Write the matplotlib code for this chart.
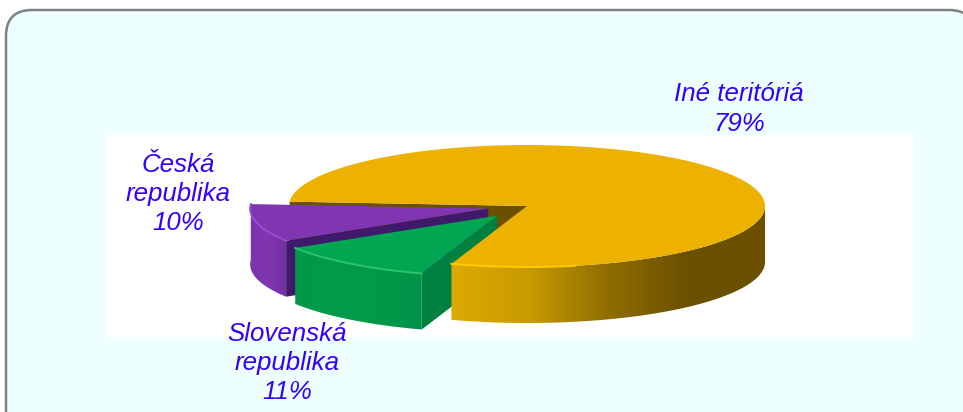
import numpy as np
import matplotlib
matplotlib.use('Agg')
import matplotlib.pyplot as plt
from matplotlib.colors import LinearSegmentedColormap
from matplotlib.patches import FancyBboxPatch, Polygon, Rectangle

labels = ['Iné teritóriá', 'Česká\nrepublika', 'Slovenská\nrepublika']
shares = [79, 10, 11]

top_colors = ['#EDB200', '#7F36B0', '#00A651']
side_colors = ['#6B5000', '#3F1A6B', '#008040']
rim_colors = ['#FFCC00', '#9A4ADB', '#2BC46B']
wall_stops = [
    ['#DDAA00', '#C79A00', '#8F6E00', '#6B5000', '#6B5000'],
    ['#7A34AC', '#7F36B0', '#7330A2'],
    ['#00994A', '#009C4B', '#009347'],
]
explode = [0, 40, 48]
label_pos = [(739, 109), (178, 194), (287, 363)]

cx, cy = 527, 206
rx, ry = 238, 61
depth = 56
start = 251.5

fig = plt.figure(figsize=(9.63, 4.12), dpi=100, facecolor='white')
ax = fig.add_axes([0, 0, 1, 1])
ax.axis('off')


def point(center, angle):
    a = np.radians(angle)
    return center[0] + rx * np.cos(a), center[1] - ry * np.sin(a)


def arc(center, a0, a1, n=160):
    a = np.radians(np.linspace(a0, a1, n))
    return np.column_stack([center[0] + rx * np.cos(a), center[1] - ry * np.sin(a)])


def lower(pts):
    return np.asarray(pts) + [0, depth]


# Panel behind the chart, it runs past the right and bottom of the image
ax.add_patch(FancyBboxPatch((6, 10), 969, 430, boxstyle='round,pad=0,rounding_size=26',
                            fc='#EEFFFF', ec='#808080', lw=1.8, zorder=1))
ax.add_patch(Rectangle((106, 135), 807, 202, fc='white', ec='none', zorder=2))

# Slice angles come from the shares, going counter-clockwise
spans = []
a = start
for s in shares:
    spans.append((a, a + s * 3.6))
    a += s * 3.6

centers = []
for (a0, a1), e in zip(spans, explode):
    mid = np.radians((a0 + a1) / 2)
    centers.append((cx + e * np.cos(mid), cy - e * np.sin(mid) * ry / rx))


def draw_wall(i, a0, a1, z):
    # outer wall with a left-to-right shade
    up = arc(centers[i], a0, a1)
    verts = np.vstack([up, lower(up)[::-1]])
    poly = Polygon(verts, fc='none', ec='none', zorder=z)
    ax.add_patch(poly)
    cmap = LinearSegmentedColormap.from_list('wall', wall_stops[i])
    im = ax.imshow(np.linspace(0, 1, 256)[None, :], cmap=cmap, aspect='auto', zorder=z,
                   extent=[verts[:, 0].min(), verts[:, 0].max(), verts[:, 1].max(), verts[:, 1].min()])
    im.set_clip_path(poly)


# Big slice: inner wall first, the top goes on last
a0, a1 = spans[0]
c0 = centers[0]
end_pt = point(c0, a1)
inner = [c0, end_pt, lower([end_pt])[0], lower([c0])[0]]
ax.add_patch(Polygon(inner, fc=side_colors[0], ec='none', zorder=3))

# Purple slice, then green in front of it
z = 4
for i in (1, 2):
    b0, b1 = spans[i]
    c = centers[i]
    p1 = point(c, b1)
    cut = [c, p1, lower([p1])[0], lower([c])[0]]
    ax.add_patch(Polygon(cut, fc=side_colors[i], ec='none', zorder=z))
    draw_wall(i, b0, b1, z + 0.1)
    top = np.vstack([[c], arc(c, b0, b1)])
    ax.add_patch(Polygon(top, fc=top_colors[i], ec='none', zorder=z + 0.2))
    ax.plot(*arc(c, b0, b1).T, color=rim_colors[i], lw=1.4, zorder=z + 0.3)
    z += 1

draw_wall(0, a0, 360, 6)
top = np.vstack([[c0], arc(c0, a0, a1, 400)])
ax.add_patch(Polygon(top, fc=top_colors[0], ec='none', zorder=6.2))
ax.plot(*arc(c0, a0, a0 + 30).T, color=rim_colors[0], lw=1.4, zorder=6.3)

# Labels
for name, share, (x, y) in zip(labels, shares, label_pos):
    ax.text(x, y, f'{name}\n{share}%', ha='center', va='center', color='#3300FF',
            family='Liberation Sans', style='italic', fontsize=18.6, linespacing=1.28, zorder=8)

ax.set_xlim(0, 963)
ax.set_ylim(412, 0)
fig.savefig('out.png', dpi=100)
